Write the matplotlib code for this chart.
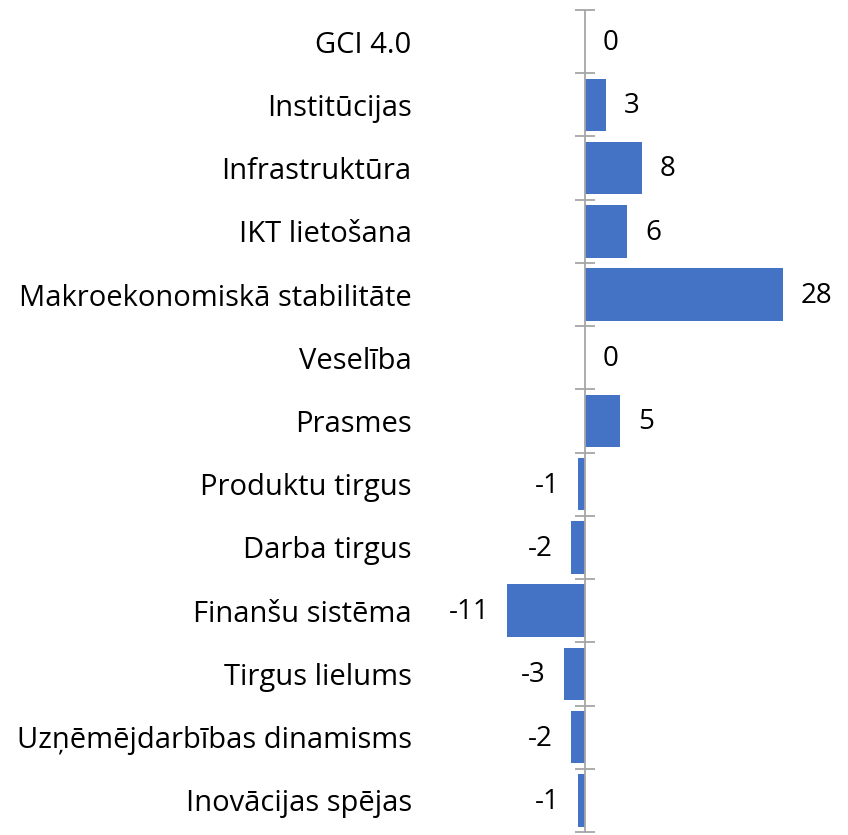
import matplotlib
matplotlib.use("Agg")
import matplotlib.pyplot as plt

categories = ["GCI 4.0", "Institūcijas", "Infrastruktūra", "IKT lietošana",
              "Makroekonomiskā stabilitāte", "Veselība", "Prasmes",
              "Produktu tirgus", "Darba tirgus", "Finanšu sistēma",
              "Tirgus lielums", "Uzņēmējdarbības dinamisms", "Inovācijas spējas"]
values = [0, 3, 8, 6, 28, 0, 5, -1, -2, -11, -3, -2, -1]

plt.rcParams['font.family'] = ['Open Sans', 'DejaVu Sans']

W, H = 848, 835
fig = plt.figure(figsize=(W / 100, H / 100), dpi=100)
ax_left, ax_right = 420, 840
ax_top, ax_bottom = 10, 832
ax = fig.add_axes([ax_left / W, 1 - ax_bottom / H, (ax_right - ax_left) / W, (ax_bottom - ax_top) / H])

ppu = 198 / 28.0
x0 = 585
ax.set_xlim(-(x0 - ax_left) / ppu, (ax_right - x0) / ppu)
n = len(categories)
ax.set_ylim(n - 0.5, -0.5)

pos = list(range(n))
ax.barh(pos, values, height=0.83, color="#4472C4", zorder=2)

ax.axvline(0, color="#A6A6A6", lw=1.3, zorder=3)
bounds = [i - 0.5 for i in range(n + 1)]
ax.plot([0] * len(bounds), bounds, linestyle="none", marker="_", markersize=14,
        markeredgewidth=1.3, color="#A6A6A6", clip_on=False, zorder=3)

for spine in ax.spines.values():
    spine.set_visible(False)
ax.set_xticks([])
ax.set_yticks(pos)
ax.set_yticklabels(categories, fontsize=21)
ax.tick_params(axis="y", length=0, pad=6)

for p, v in zip(pos, values):
    if v >= 0:
        ax.annotate(str(v), (v, p), xytext=(13, -1), textcoords="offset points",
                    ha="left", va="center", fontsize=20, clip_on=False)
    else:
        ax.annotate(str(v), (v, p), xytext=(-13, -1), textcoords="offset points",
                    ha="right", va="center", fontsize=20, clip_on=False)

fig.savefig("out.png", dpi=100)
